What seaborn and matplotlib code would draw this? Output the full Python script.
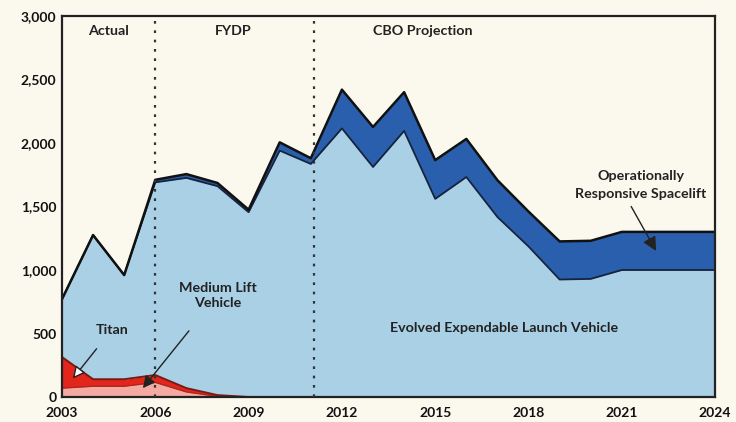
import numpy as np
import pandas as pd
import matplotlib
matplotlib.use("Agg")
import matplotlib.pyplot as plt
import seaborn as sns

# Launch vehicle funding, millions of dollars
years = list(range(2003, 2025))
medium_lift = [70, 85, 85, 115, 40, 5, 0, 0, 0, 0, 0, 0, 0, 0, 0, 0, 0, 0, 0, 0, 0, 0]
titan = [245, 55, 55, 58, 30, 10, 0, 0, 0, 0, 0, 0, 0, 0, 0, 0, 0, 0, 0, 0, 0, 0]
eelv = [455, 1135, 820, 1517, 1655, 1645, 1455, 1940, 1835, 2115, 1811, 2095, 1560,
        1732, 1417, 1185, 925, 930, 1000, 1000, 1000, 1000]
ors = [0, 0, 0, 20, 30, 25, 20, 65, 45, 305, 315, 305, 305, 300, 290, 275, 300, 300,
       300, 300, 300, 300]

phase_breaks = [2006, 2011.1]
phase_labels = ["Actual", "FYDP", "CBO Projection"]
x_ticks = [2003, 2006, 2009, 2012, 2015, 2018, 2021, 2024]
y_ticks = [0, 500, 1000, 1500, 2000, 2500, 3000]

df = pd.DataFrame({"year": years, "mlv": medium_lift, "titan": titan,
                   "eelv": eelv, "ors": ors})
df["c1"] = df["mlv"]
df["c2"] = df["c1"] + df["titan"]
df["c3"] = df["c2"] + df["eelv"]
df["c4"] = df["c3"] + df["ors"]

sns.set_theme(style="white")
plt.rcParams["font.family"] = ["Lato", "DejaVu Sans"]
plt.rcParams["font.weight"] = "bold"

bg = "#fbf9ee"
fig = plt.figure(figsize=(7.36, 4.22), dpi=100, facecolor=bg)
ax = fig.add_axes([0.0842, 0.0592, 0.8875, 0.903])
ax.set_facecolor(bg)

pink = "#f3aaa2"
red = "#e3261c"
light_blue = "#a9d0e5"
dark_blue = "#2a5fae"

ax.fill_between(df["year"], 0, df["c1"], color=pink, lw=0)
ax.fill_between(df["year"], df["c1"], df["c2"], color=red, lw=0)
ax.fill_between(df["year"], df["c2"], df["c3"], color=light_blue, lw=0)
ax.fill_between(df["year"], df["c3"], df["c4"], color=dark_blue, lw=0)

# outlines between the layers
sns.lineplot(data=df, x="year", y="c1", ax=ax, color="#b3241c", lw=1.0)
sns.lineplot(data=df, x="year", y="c2", ax=ax, color="#7a1a14", lw=1.4)
sns.lineplot(data=df, x="year", y="c3", ax=ax, color="#16233d", lw=1.3)
sns.lineplot(data=df, x="year", y="c4", ax=ax, color="#111111", lw=1.8)

for xb in phase_breaks:
    ax.axvline(xb, color="#333333", lw=1.6, ls=(0, (1.2, 3.0)), zorder=5)

ax.set_xlim(2003, 2024)
ax.set_ylim(0, 3000)
ax.set_xticks(x_ticks)
ax.set_yticks(y_ticks)
ax.set_xticklabels([str(t) for t in x_ticks])
ax.set_yticklabels([f"{t:,}" for t in y_ticks])
ax.set_xlabel("")
ax.set_ylabel("")
ax.tick_params(axis="both", direction="in", length=4, width=1, color="#555555",
               labelsize=10, labelcolor="#111111", pad=4)
ax.tick_params(axis="x", pad=7)
for lab in ax.get_xticklabels() + ax.get_yticklabels():
    lab.set_fontweight("bold")
for s in ax.spines.values():
    s.set_color("#222222")
    s.set_linewidth(1.6)
    s.set_visible(True)

txt = dict(fontsize=10.3, fontweight="bold", color="#222222")
ax.text(2004.5, 2880, phase_labels[0], ha="center", va="center", **txt)
ax.text(2008.5, 2880, phase_labels[1], ha="center", va="center", **txt)
ax.text(2014.6, 2880, phase_labels[2], ha="center", va="center", **txt)

arrow_dark = dict(arrowstyle="-|>,head_length=0.7,head_width=0.35",
                  fc="#222222", ec="#222222", lw=1.0, shrinkA=0, shrinkB=0)

ax.annotate("Titan", xy=(2003.35, 145), xytext=(2004.6, 530),
            ha="center", va="center", **txt,
            arrowprops=dict(arrowstyle="-|>,head_length=0.7,head_width=0.35",
                            fc="white", ec="#222222", lw=1.0,
                            shrinkA=9, shrinkB=0))
ax.annotate("Medium Lift\nVehicle", xy=(2005.6, 70), xytext=(2008.0, 800),
            ha="center", va="center", linespacing=1.35, **txt,
            arrowprops=dict(arrow_dark, shrinkA=17))
ax.text(2021.6, 1670, "Operationally\nResponsive Spacelift", ha="center",
        va="center", linespacing=1.6, **txt)
ax.annotate("", xy=(2022.1, 1150), xytext=(2021.3, 1500),
            arrowprops=arrow_dark)
ax.text(2017.2, 540, "Evolved Expendable Launch Vehicle", ha="center",
        va="center", **txt)

fig.savefig("out.png", dpi=100, facecolor=bg)
